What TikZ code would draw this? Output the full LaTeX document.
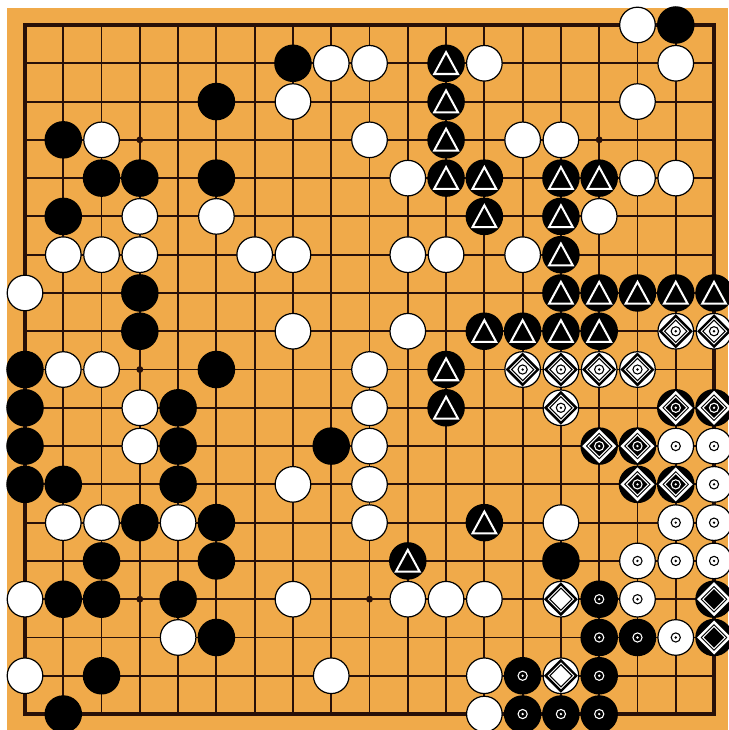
\documentclass[tikz,border=0pt]{standalone}
\usepackage{tikz}
\usetikzlibrary{calc}
\usepackage{xcolor}
\definecolor{bois}{RGB}{240,170,74}
\definecolor{trait}{RGB}{40,16,8}

% marques sur les pierres
\newcommand{\losange}[2]{%
  \draw[#2,line width=1.8pt] (#1) +(0.40,0) -- +(0,0.40) -- +(-0.40,0) -- +(0,-0.40) -- cycle;
  \draw[#2,line width=0.8pt] (#1) +(0.29,0) -- +(0,0.29) -- +(-0.29,0) -- +(0,-0.29) -- cycle;}
\newcommand{\anneau}[2]{%
  \draw[#2,line width=0.8pt] (#1) circle (0.12);
  \fill[#2] (#1) circle (0.035);}

\begin{document}
\begin{tikzpicture}[x=1cm,y=-1cm,
    noir/.style={circle,fill=black,inner sep=0pt,minimum size=0.98cm},
    blanc/.style={circle,draw=black,line width=0.9pt,fill=white,inner sep=0pt,minimum size=0.93cm},
    grille/.style={draw=trait,line width=1.4pt},
    tri/.style={draw=white,line width=1.5pt,line join=miter}]

% Plateau
\useasboundingbox (-0.653,-0.653) rectangle (18.365,18.417);
\fill[bois] (-0.470,-0.444) rectangle (18.365,18.417);
\foreach \i in {1,...,17} {
  \draw[grille] (\i,0) -- (\i,18);
  \draw[grille] (0,\i) -- (18,\i);
}
\draw[trait,line width=2.4pt] (0,0) rectangle (18,18);
\foreach \i in {3,9,15} \foreach \j in {3,9,15} \fill[trait] (\i,\j) circle (0.09);

% Pierres noires
\foreach \c/\r in {7/1,17/0,5/2,1/3,2/4,3/4,5/4,1/5,3/7,3/8,0/9,5/9,0/10,4/10,0/11,4/11,8/11,
    0/12,1/12,4/12,3/13,5/13,2/14,5/14,14/14,1/15,2/15,4/15,5/16,2/17,1/18}
  \node[noir] (n\c-\r) at (\c,\r) {};

% Pierres blanches
\foreach \c/\r in {16/0,8/1,9/1,12/1,17/1,7/2,16/2,2/3,9/3,13/3,14/3,10/4,16/4,17/4,3/5,5/5,15/5,
    1/6,2/6,3/6,6/6,7/6,10/6,11/6,13/6,0/7,7/8,10/8,1/9,2/9,9/9,3/10,9/10,3/11,9/11,7/12,9/12,
    1/13,2/13,4/13,9/13,14/13,0/15,7/15,10/15,11/15,12/15,4/16,0/17,8/17,12/17,12/18}
  \node[blanc] (b\c-\r) at (\c,\r) {};

% Noires marquees d'un triangle
\foreach \c/\r in {11/1,11/2,11/3,11/4,12/4,14/4,15/4,12/5,14/5,14/6,14/7,15/7,16/7,17/7,18/7,
    12/8,13/8,14/8,15/8,11/9,11/10,12/13,10/14} {
  \node[noir] (t\c-\r) at (\c,\r) {};
  \draw[tri] (t\c-\r.center) +(0,-0.29) -- +(0.31,0.28) -- +(-0.31,0.28) -- cycle;
}

% Losange et anneau
\foreach \c/\r in {17/8,18/8,13/9,14/9,15/9,16/9,14/10} {
  \node[blanc] (bl\c-\r) at (\c,\r) {};
  \losange{bl\c-\r.center}{black}
  \anneau{bl\c-\r.center}{black}
}
\foreach \c/\r in {17/10,18/10,15/11,16/11,16/12,17/12} {
  \node[noir] (nl\c-\r) at (\c,\r) {};
  \losange{nl\c-\r.center}{white}
  \anneau{nl\c-\r.center}{white}
}

% Anneau seul
\foreach \c/\r in {17/11,18/11,18/12,17/13,18/13,16/14,17/14,18/14,16/15,17/16} {
  \node[blanc] (ba\c-\r) at (\c,\r) {};
  \anneau{ba\c-\r.center}{black}
}
\foreach \c/\r in {15/15,15/16,16/16,13/17,15/17,13/18,14/18,15/18} {
  \node[noir] (na\c-\r) at (\c,\r) {};
  \anneau{na\c-\r.center}{white}
}

% Losange seul
\foreach \c/\r in {14/15,14/17} {
  \node[blanc] (bx\c-\r) at (\c,\r) {};
  \losange{bx\c-\r.center}{black}
}
\foreach \c/\r in {18/15,18/16} {
  \node[noir] (nx\c-\r) at (\c,\r) {};
  \losange{nx\c-\r.center}{white}
}

\end{tikzpicture}
\end{document}
